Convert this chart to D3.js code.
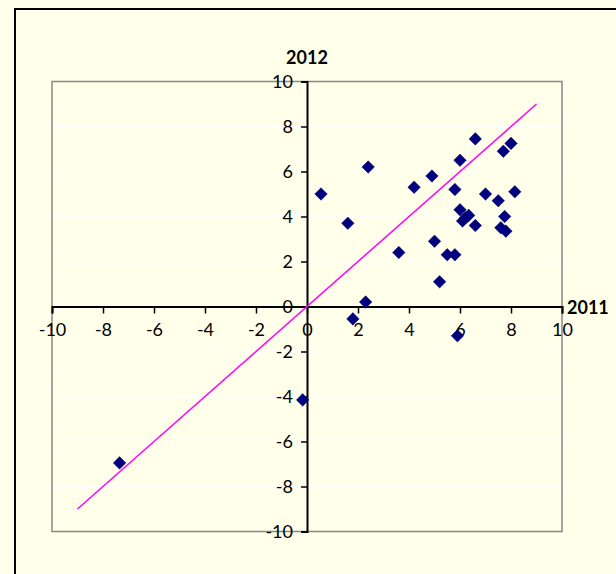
<!DOCTYPE html>
<html><head><meta charset="utf-8">
<script src="https://cdn.jsdelivr.net/npm/d3@7"></script>
<style>
html,body{margin:0;padding:0;background:#FFFFEA;}
svg{display:block;}
text{font-family:Lato,"Open Sans",sans-serif;}
</style></head>
<body>
<svg id="chart" width="616" height="574"></svg>
<script>
const xValues2011 = [0.55,1.6,2.4,2.3,1.8,3.6,4.2,4.9,5.0,5.2,5.5,5.8,5.8,6.0,6.0,6.1,6.22,6.34,6.6,6.6,7.0,7.5,7.6,7.8,7.75,7.7,8.0,8.15,5.9,-7.35,-0.17];
const yValues2012 = [5.0,3.7,6.2,0.2,-0.55,2.4,5.3,5.8,2.9,1.1,2.3,2.3,5.2,6.5,4.3,3.8,3.95,4.05,3.6,7.45,5.0,4.7,3.5,3.35,4.0,6.9,7.25,5.1,-1.3,-6.95,-4.15];
const lineX = [-9, 9];
const lineY = [-9, 9];
const xTicks = [-10,-8,-6,-4,-2,0,2,4,6,8,10];
const yTicks = [-10,-8,-6,-4,-2,0,2,4,6,8,10];
const gridY = [-8,-6,-4,-2,2,4,6,8];
const xTitle = "2011";
const yTitle = "2012";

const svg = d3.select("#chart");
const x = d3.scaleLinear().domain([-10,10]).range([52,562]);
const y = d3.scaleLinear().domain([-10,10]).range([531.5,81.5]);
const fmt = d => String(d);

// outer frame
svg.append("rect").attr("x",15).attr("y",9).attr("width",620).attr("height",600)
  .attr("fill","#FFFFEA").attr("stroke","#000").attr("stroke-width",2);

// plot area
svg.append("rect").attr("x",x(-10)).attr("y",y(10)).attr("width",x(10)-x(-10)).attr("height",y(-10)-y(10))
  .attr("fill","#FFFFEA").attr("stroke","#888").attr("stroke-width",1.5);

// gridlines
svg.append("g").selectAll("line").data(gridY).join("line")
  .attr("x1",x(-10)+1).attr("x2",x(10)-1).attr("y1",d=>y(d)).attr("y2",d=>y(d))
  .attr("stroke","#fff").attr("stroke-width",1.5);

// x axis
const xAxis = d3.axisBottom(x).tickValues(xTicks).tickSize(7).tickPadding(10).tickFormat(fmt);
const gx = svg.append("g").attr("transform",`translate(0,${y(0)})`).call(xAxis);
gx.select(".domain").attr("stroke","#000").attr("stroke-width",2);
gx.selectAll(".tick line").attr("stroke","#000").attr("stroke-width",1.5);
gx.selectAll(".tick text").attr("font-size",18).attr("fill","#000");

// y axis
const yAxis = d3.axisLeft(y).tickValues(yTicks).tickSize(6).tickPadding(8).tickFormat(fmt);
const gy = svg.append("g").attr("transform",`translate(${x(0)},0)`).call(yAxis);
gy.select(".domain").attr("stroke","#000").attr("stroke-width",2);
gy.selectAll(".tick line").attr("stroke","#000").attr("stroke-width",1.5);
gy.selectAll(".tick text").attr("font-size",18).attr("fill","#000");

// reference line
svg.append("line")
  .attr("x1",x(lineX[0])).attr("y1",y(lineY[0])).attr("x2",x(lineX[1])).attr("y2",y(lineY[1]))
  .attr("stroke","#FF00FF").attr("stroke-width",1.5);

// points
const pts = xValues2011.map((v,i)=>({x:v,y:yValues2012[i]}));
svg.append("g").selectAll("path").data(pts).join("path")
  .attr("d", d3.symbol().type(d3.symbolDiamond2).size(100))
  .attr("transform", d=>`translate(${x(d.x)},${y(d.y)})`)
  .attr("fill","#000080").attr("stroke","#000060").attr("stroke-width",0.5);

// titles
svg.append("text").attr("x",x(0)).attr("y",64).attr("text-anchor","middle")
  .attr("font-size",18).attr("font-weight","bold").text(yTitle);
svg.append("text").attr("x",567).attr("y",y(0)+7).attr("text-anchor","start")
  .attr("font-size",18).attr("font-weight","bold").text(xTitle);
</script>
</body></html>
